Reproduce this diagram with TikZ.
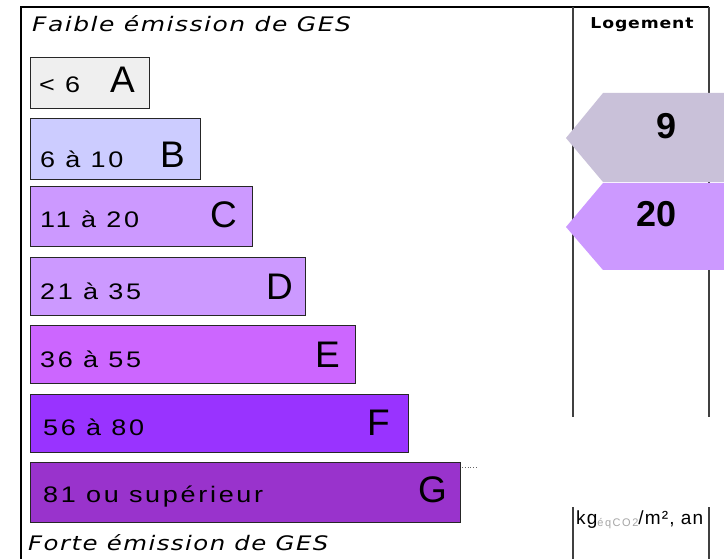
\documentclass[tikz,border=0pt]{standalone}
\usepackage{fontspec}
\usepackage{graphicx}
\setmainfont{Liberation Sans}
\newfontfamily\verdfont{DejaVu Sans}
\definecolor{cA}{HTML}{EFEFEF}
\definecolor{cB}{HTML}{CCCCFF}
\definecolor{cC}{HTML}{CC99FF}
\definecolor{cD}{HTML}{CC99FF}
\definecolor{cE}{HTML}{CC66FF}
\definecolor{cF}{HTML}{9933FF}
\definecolor{cG}{HTML}{9933CC}
\definecolor{arrnine}{HTML}{C9C1D9}
\definecolor{arrtwenty}{HTML}{CC99FF}
\newcommand{\rngtxt}[1]{\scalebox{1.2}[1]{#1}}
\begin{document}
\begin{tikzpicture}[x=1pt,y=-1pt,
  bar/.style={draw=black!85, line width=1.3pt, anchor=north west, inner sep=0pt},
  rng/.style={anchor=base west, inner sep=0pt, font=\fontsize{22.5}{22.5}\selectfont\addfontfeature{LetterSpace=10}},
  cls/.style={anchor=base east, inner sep=0pt, font=\fontsize{37}{37}\selectfont},
  framel/.style={line width=2pt, black},
  coll/.style={line width=2pt, black!75},
  ttl/.style={anchor=base west, inner sep=0pt, font=\verdfont\itshape\fontsize{20}{20}\selectfont\addfontfeature{LetterSpace=6}},
  val/.style={anchor=base east, inner sep=0pt, font=\bfseries\fontsize{36}{36}\selectfont}]
\useasboundingbox[fill=white] (0,0) rectangle (724,559);
% frame
\coordinate (ftl) at (21,7);
\coordinate (fbl) at (21,559);
\coordinate (ftr) at (709,7);
\draw[framel] (fbl) -- (ftl) -- (ftr);
% column lines
\coordinate (cl1) at (573,7);  \coordinate (cl2) at (573,417);
\coordinate (cr1) at (709,7);  \coordinate (cr2) at (709,417);
\coordinate (cl3) at (573,507); \coordinate (cl4) at (573,559);
\coordinate (cr3) at (709,507); \coordinate (cr4) at (709,559);
\draw[coll] (cl1) -- (cl2);
\draw[coll] (cr1) -- (cr2);
\draw[coll] (cl3) -- (cl4);
\draw[coll] (cr3) -- (cr4);
% titles
\node[ttl] (top) at (32,32) {\scalebox{1.25}[1]{Faible émission de GES}};
\node[ttl] (bot) at (28,550) {\scalebox{1.22}[1]{Forte émission de GES}};
\node[anchor=base, inner sep=0pt, font=\verdfont\bfseries\fontsize{15}{15}\selectfont\addfontfeature{LetterSpace=5}] (log) at (642,29) {\scalebox{1.15}[1]{Logement}};
% bars
\node[bar, fill=cA, minimum width=119, minimum height=51] (A) at (30,57) {};
\node[bar, fill=cB, minimum width=170, minimum height=61] (B) at (30,118) {};
\node[bar, fill=cC, minimum width=222, minimum height=60] (C) at (30,186) {};
\node[bar, fill=cD, minimum width=275, minimum height=58] (D) at (30,257) {};
\node[bar, fill=cE, minimum width=325, minimum height=58] (E) at (30,325) {};
\node[bar, fill=cF, minimum width=378, minimum height=58] (F) at (30,394) {};
\node[bar, fill=cG, minimum width=430, minimum height=60] (G) at (30,462) {};
% range labels
\node[rng] (lA) at (39,93) {\rngtxt{< 6}};
\node[rng] (lB) at (40,168) {\rngtxt{6 à 10}};
\node[rng] (lC) at (40,228) {\rngtxt{11 à 20}};
\node[rng] (lD) at (40,299) {\rngtxt{21 à 35}};
\node[rng] (lE) at (40,367) {\rngtxt{36 à 55}};
\node[rng] (lF) at (43,435) {\rngtxt{56 à 80}};
\node[rng] (lG) at (43,502) {\rngtxt{81 ou supérieur}};
% class letters
\node[cls] (kA) at (135,93) {A};
\node[cls] (kB) at (185,168) {B};
\node[cls] (kC) at (237,228) {C};
\node[cls] (kD) at (293,299) {D};
\node[cls] (kE) at (340,367) {E};
\node[cls] (kF) at (390,435) {F};
\node[cls] (kG) at (447,502) {G};
% dotted mark after G
\coordinate (d1) at (462,467);
\coordinate (d2) at (477,467);
\draw[black!60, line width=0.8pt, dotted] (d1) -- (d2);
% arrows
\fill[arrnine] (724,93) -- (603,93) -- (566,138) -- (603,182) -- (724,182) -- cycle;
\fill[arrtwenty] (724,183) -- (603,183) -- (566,227) -- (603,270) -- (724,270) -- cycle;
\node[val] (v9) at (677,139) {9};
\node[val] (v20) at (677,227) {20};
% unit
\node[anchor=base west, inner sep=0pt, font=\fontsize{19}{19}\selectfont\addfontfeature{LetterSpace=6}] (unit) at (576,524)
  {kg\raisebox{-2pt}{\textcolor{black!35}{\fontsize{11}{11}\selectfont\addfontfeature{LetterSpace=14}éqCO2}}/m², an};
\end{tikzpicture}
\end{document}
